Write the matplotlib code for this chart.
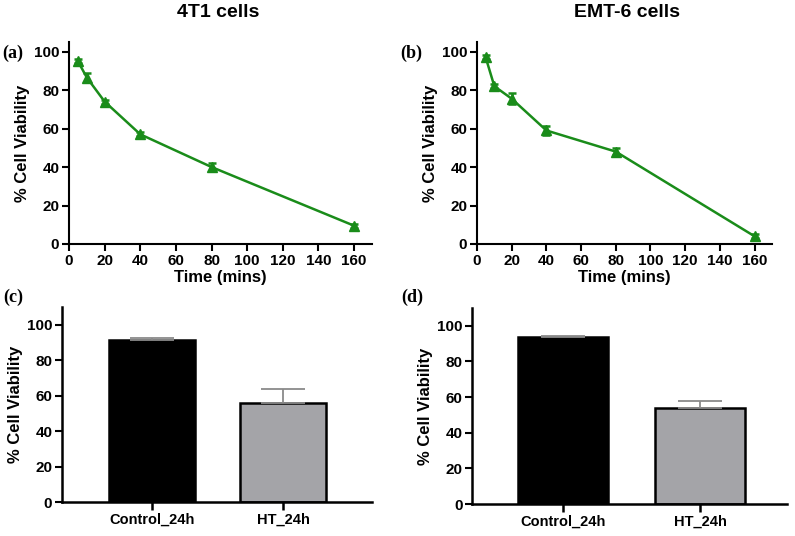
import numpy as np
import matplotlib.pyplot as plt

plt.rcParams['font.family'] = ['Liberation Sans', 'DejaVu Sans']
plt.rcParams['font.weight'] = 'bold'

# time course data
time_min = [5, 10, 20, 40, 80, 160]
via_4t1 = [95, 86.5, 74, 57, 40, 9.5]
err_4t1 = [1, 2.5, 1, 1, 2, 1]
via_emt6 = [97, 82, 75.5, 59, 48, 4]
err_emt6 = [1, 1, 3, 2.5, 2, 1]

# bar data
groups = ['Control_24h', 'HT_24h']
bar_4t1 = [91.5, 56]
bar_err_4t1 = [1.2, 7.5]
bar_emt6 = [93.5, 54]
bar_err_emt6 = [1.0, 4.0]

green = '#1a8c1a'
fig = plt.figure(figsize=(7.95, 5.36), dpi=100)

def style(ax, xsize=11):
    for s in ['top', 'right']:
        ax.spines[s].set_visible(False)
    for s in ['left', 'bottom']:
        ax.spines[s].set_linewidth(1.5)
    ax.tick_params(width=1.5, length=5, labelsize=11, pad=2)
    ax.tick_params(axis='x', labelsize=xsize)
    for lab in ax.get_xticklabels() + ax.get_yticklabels():
        lab.set_fontweight('bold')

def line_panel(rect, y, e):
    ax = fig.add_axes(rect)
    ax.errorbar(time_min, y, yerr=e, color=green, lw=1.8, marker='^', ms=7.5,
                capsize=3, capthick=1.8, elinewidth=1.8)
    ax.set_xlim(0, 170)
    ax.set_ylim(0, 105)
    ax.set_xticks(np.arange(0, 161, 20))
    ax.set_yticks(np.arange(0, 101, 20))
    ax.set_xlabel('Time (mins)', fontsize=12, fontweight='bold', labelpad=2)
    ax.set_ylabel('% Cell Viability', fontsize=12, fontweight='bold', labelpad=3)
    style(ax)
    return ax

def bar_panel(rect, vals, errs, xl):
    ax = fig.add_axes(rect)
    x = np.arange(len(groups))
    ax.bar(x, vals, width=0.66, color=['black', '#a4a4a8'], edgecolor='black', lw=1.8)
    ax.errorbar(x, vals, yerr=[[0, 0], errs], fmt='none', ecolor='#8a8a8a',
                elinewidth=1.3, capsize=16, capthick=1.3)
    ax.set_xlim(*xl)
    ax.set_ylim(0, 110)
    ax.set_xticks(x)
    ax.set_xticklabels(groups)
    ax.set_yticks(np.arange(0, 101, 20))
    ax.set_ylabel('% Cell Viability', fontsize=12, fontweight='bold', labelpad=3)
    style(ax, xsize=10.5)
    ax.spines['bottom'].set_linewidth(1.8)
    ax.spines['left'].set_linewidth(1.8)
    ax.tick_params(axis='x', length=6, width=1.8)
    return ax

line_panel([0.0868, 0.5448, 0.381, 0.3769], via_4t1, err_4t1)
line_panel([0.600, 0.5448, 0.371, 0.3769], via_emt6, err_emt6)
bar_panel([0.078, 0.0634, 0.390, 0.3638], bar_4t1, bar_err_4t1, (-0.687, 1.68))
bar_panel([0.594, 0.0597, 0.396, 0.3657], bar_emt6, bar_err_emt6, (-0.664, 1.635))

# column titles
fig.text(0.274, 0.977, '4T1 cells', fontsize=14, fontweight='bold', ha='center', va='center')
fig.text(0.789, 0.977, 'EMT-6 cells', fontsize=14, fontweight='bold', ha='center', va='center')

# panel tags
tags = [('(a)', 0.003, 0.901), ('(b)', 0.503, 0.901), ('(c)', 0.004, 0.446), ('(d)', 0.505, 0.446)]
for t, tx, ty in tags:
    fig.text(tx, ty, t, fontsize=13, fontweight='bold', family='Liberation Serif',
             ha='left', va='center')

fig.savefig('out.png', dpi=100)
